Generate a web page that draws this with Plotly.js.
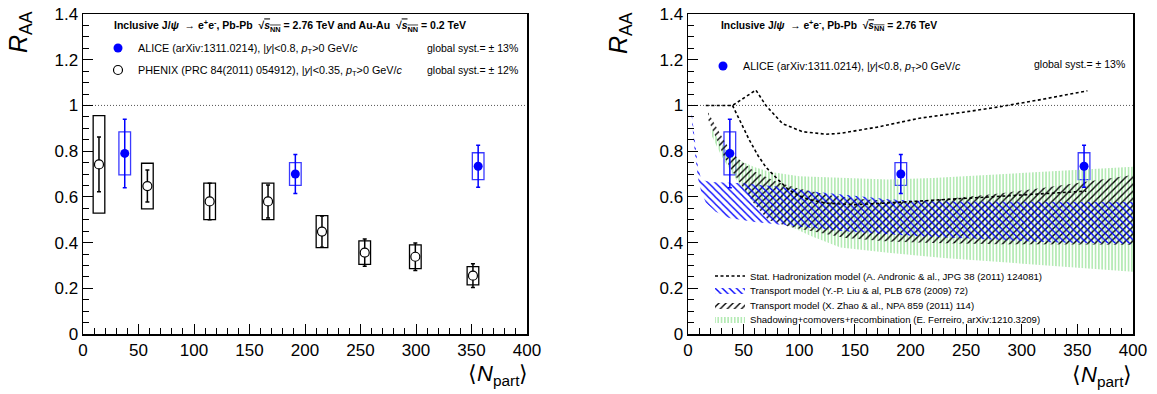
<!DOCTYPE html>
<html><head><meta charset="utf-8">
<script src="https://cdn.plot.ly/plotly-3.0.1.min.js"></script>
<style>html,body{margin:0;padding:0;background:#fff}#chart{width:1157px;height:394px}</style>
</head><body><div id="chart"></div>
<script>
// ---------- data ----------
// ALICE (arXiv:1311.0214), |y|<0.8
const aliceNpart = [37.6, 191.3, 356.0];
const aliceRaa   = [0.79, 0.70, 0.734];
const aliceStat  = [0.15, 0.085, 0.092];
const aliceSyst  = [0.094, 0.05, 0.059];

// PHENIX (PRC 84 (2011) 054912), |y|<0.35
const phenixNpart = [14.4, 58.0, 114.1, 166.7, 215.3, 253.8, 299.4, 351.3];
const phenixRaa   = [0.742, 0.647, 0.58, 0.58, 0.448, 0.356, 0.338, 0.255];
const phenixStat  = [0.12, 0.07, 0.08, 0.072, 0.068, 0.06, 0.06, 0.052];
const phenixSyst  = [0.213, 0.10, 0.08, 0.08, 0.07, 0.051, 0.052, 0.04];

// Stat. Hadronization model (two curves)
const shmUpperN = [16, 40, 61, 70, 85, 103, 124, 137, 170, 208, 250, 280, 320, 359];
const shmUpperR = [1.0, 1.0, 1.067, 1.0, 0.92, 0.885, 0.874, 0.878, 0.905, 0.944, 0.972, 0.994, 1.028, 1.064];
const shmLowerN = [40, 48, 55, 63, 70, 80, 90, 100, 109, 125, 150, 175, 208, 250, 300, 358];
const shmLowerR = [1.0, 0.92, 0.85, 0.78, 0.73, 0.68, 0.633, 0.605, 0.588, 0.572, 0.566, 0.572, 0.582, 0.595, 0.61, 0.625];

// Transport model (Y.-P. Liu et al.)
const liuUpperN = [3, 6, 9, 12, 20, 50, 80, 110, 142, 180, 220, 280, 340, 400];
const liuUpperR = [0.98, 0.85, 0.73, 0.675, 0.665, 0.66, 0.645, 0.625, 0.608, 0.59, 0.58, 0.578, 0.578, 0.578];
const liuLowerN = [3, 6, 9, 12, 16, 25, 37, 60, 76, 100, 140, 200, 260, 330, 400];
const liuLowerR = [0.96, 0.80, 0.68, 0.62, 0.575, 0.535, 0.508, 0.49, 0.484, 0.47, 0.45, 0.43, 0.415, 0.40, 0.395];

// Transport model (X. Zhao et al.)
const zhaoUpperN = [18, 25, 32, 40, 47, 60, 80, 100, 130, 160, 200, 240, 280, 320, 360, 400];
const zhaoUpperR = [0.97, 0.91, 0.85, 0.79, 0.76, 0.71, 0.665, 0.635, 0.605, 0.588, 0.58, 0.595, 0.615, 0.64, 0.668, 0.696];
const zhaoLowerN = [18, 25, 32, 40, 47, 60, 72, 90, 110, 142, 180, 220, 280, 340, 400];
const zhaoLowerR = [0.94, 0.86, 0.78, 0.71, 0.66, 0.565, 0.50, 0.47, 0.45, 0.42, 0.405, 0.398, 0.393, 0.39, 0.39];

// Shadowing+comovers+recombination (E. Ferreiro)
const ferUpperN = [20, 25, 35, 49, 60, 73, 100, 142, 180, 220, 271, 330, 400];
const ferUpperR = [0.91, 0.87, 0.80, 0.754, 0.73, 0.71, 0.69, 0.681, 0.676, 0.682, 0.696, 0.712, 0.732];
const ferLowerN = [20, 30, 40, 50, 60, 75, 90, 110, 137, 180, 230, 280, 340, 400];
const ferLowerR = [0.88, 0.78, 0.70, 0.63, 0.57, 0.51, 0.475, 0.43, 0.378, 0.355, 0.333, 0.316, 0.293, 0.272];

const xTickVals = [0, 50, 100, 150, 200, 250, 300, 350, 400];

// ---------- helpers ----------
const W = 1157, H = 394;
const px = v => v / W;
const py = v => 1 - v / H;
const FONT = 'Liberation Sans, Arial, Helvetica, sans-serif';
const band = (un, ur, ln, lr) => ({x: un.concat(ln.slice().reverse()), y: ur.concat(lr.slice().reverse())});
const diff = (a, b) => a.map((v, i) => v - b[i]);
const twice = a => a.map(v => 2 * v);

const traces = [];
function addData(xa, ya, nx, ny, stat, syst, color, boxColor, filled, name, legend) {
  traces.push({type: 'bar', x: nx, y: twice(syst), base: diff(ny, syst), width: 10.5,
    xaxis: xa, yaxis: ya, showlegend: false, hoverinfo: 'skip',
    marker: {color: 'rgba(0,0,0,0)', line: {color: boxColor, width: 1.3}}});
  traces.push({type: 'scatter', mode: 'markers', x: nx, y: ny, xaxis: xa, yaxis: ya,
    name: name, legend: legend, showlegend: true,
    error_y: {type: 'data', array: stat, visible: true, color: color, thickness: 1.5, width: 2},
    marker: {symbol: 'circle', size: 9, color: filled ? color : '#ffffff', line: {color: color, width: filled ? 0 : 1.2}}});
}

const aliceLabel = 'ALICE (arXiv:1311.0214), |<i>y</i>|&lt;0.8, <i>p</i><sub>T</sub>&gt;0 GeV/<i>c</i>';
// Left panel
addData('x', 'y', phenixNpart, phenixRaa, phenixStat, phenixSyst, '#000000', '#000000', false,
  'PHENIX (PRC 84(2011) 054912), |<i>y</i>|&lt;0.35, <i>p</i><sub>T</sub>&gt;0 GeV/<i>c</i>', 'legend2');
addData('x', 'y', aliceNpart, aliceRaa, aliceStat, aliceSyst, '#0000ff', '#3a3aff', true, aliceLabel, 'legend');

// Right panel models
const fb = band(ferUpperN, ferUpperR, ferLowerN, ferLowerR);
traces.push({type: 'scatter', mode: 'lines', x: fb.x, y: fb.y, xaxis: 'x2', yaxis: 'y2', fill: 'toself',
  fillcolor: 'rgba(0,0,0,0)', line: {width: 0, color: 'rgba(0,0,0,0)'}, hoverinfo: 'skip',
  fillpattern: {shape: '|', fgcolor: '#8ee08e', size: 3.3, solidity: 0.33},
  name: 'Shadowing+comovers+recombination (E. Ferreiro, arXiv:1210.3209)', legend: 'legend7'});
const zb = band(zhaoUpperN, zhaoUpperR, zhaoLowerN, zhaoLowerR);
traces.push({type: 'scatter', mode: 'lines', x: zb.x, y: zb.y, xaxis: 'x2', yaxis: 'y2', fill: 'toself',
  fillcolor: 'rgba(0,0,0,0)', line: {width: 0, color: 'rgba(0,0,0,0)'}, hoverinfo: 'skip',
  fillpattern: {shape: '/', fgcolor: '#000000', size: 5, solidity: 0.28},
  name: 'Transport model (X. Zhao &amp; al., NPA 859 (2011) 114)', legend: 'legend6'});
const lb = band(liuUpperN, liuUpperR, liuLowerN, liuLowerR);
traces.push({type: 'scatter', mode: 'lines', x: lb.x, y: lb.y, xaxis: 'x2', yaxis: 'y2', fill: 'toself',
  fillcolor: 'rgba(0,0,0,0)', line: {width: 0, color: 'rgba(0,0,0,0)'}, hoverinfo: 'skip',
  fillpattern: {shape: '\\', fgcolor: '#0000ff', size: 5, solidity: 0.28},
  name: 'Transport model (Y.-P. Liu &amp; al, PLB 678 (2009) 72)', legend: 'legend5'});
traces.push({type: 'scatter', mode: 'lines', x: shmUpperN.concat([null], shmLowerN), y: shmUpperR.concat([null], shmLowerR),
  xaxis: 'x2', yaxis: 'y2', connectgaps: false, hoverinfo: 'skip',
  line: {color: '#000000', width: 1.6, dash: '3px,2.5px'},
  name: 'Stat. Hadronization model (A. Andronic &amp; al., JPG 38 (2011) 124081)', legend: 'legend4'});

addData('x2', 'y2', aliceNpart, aliceRaa, aliceStat, aliceSyst, '#0000ff', '#3a3aff', true, aliceLabel, 'legend3');

// ---------- layout ----------
const xDomL = [px(83), px(527)], xDomR = [px(688), px(1133)];
const yDom = [py(334), py(14)];
function xax(dom, anchor) {
  return {domain: dom, anchor: anchor, range: [0, 400], tickvals: xTickVals, ticks: 'inside', ticklen: 10,
    tickwidth: 1, tickcolor: '#000', showline: true, linecolor: '#000', linewidth: 1.5, mirror: true,
    showgrid: false, zeroline: false, tickfont: {family: FONT, size: 17, color: '#000'},
    minor: {dtick: 10, ticks: 'inside', ticklen: 6, tickcolor: '#000', tickwidth: 1, showgrid: false}};
}
function yax(anchor) {
  return {domain: yDom, anchor: anchor, range: [0, 1.4], dtick: 0.2, tick0: 0, ticks: 'inside', ticklen: 10,
    tickwidth: 1, tickcolor: '#000', showline: true, linecolor: '#000', linewidth: 1.5, mirror: true,
    showgrid: false, zeroline: false, tickfont: {family: FONT, size: 17, color: '#000'},
    minor: {dtick: 0.05, ticks: 'inside', ticklen: 6, tickcolor: '#000', tickwidth: 1, showgrid: false}};
}

const sqrtS = '√<span style="text-decoration:overline"><i>s</i><sub>NN</sub></span>';
const ann = [];
function txt(x, y, text, opts) {
  ann.push(Object.assign({xref: 'paper', yref: 'paper', x: px(x), y: py(y), text: text, showarrow: false,
    xanchor: 'left', yanchor: 'middle', font: {family: FONT, size: 10.5, color: '#000'}}, opts || {}));
}
// left
txt(112, 26, '<b>Inclusive J/<i>ψ</i>  → e<sup>+</sup>e<sup>-</sup>, Pb-Pb  ' + sqrtS + ' = 2.76 TeV and Au-Au  ' + sqrtS + ' = 0.2 TeV</b>', {font: {family: FONT, size: 10.5, color: '#000'}});
txt(520, 48, 'global syst.= ± 13%', {xanchor: 'right'});
txt(520, 70, 'global syst.= ± 12%', {xanchor: 'right'});
txt(20, 32, '<i>R</i><sub>AA</sub>', {xanchor: 'center', textangle: -90, font: {family: FONT, size: 25, color: '#000'}});
txt(498, 375, '⟨<i>N</i><sub>part</sub>⟩', {xanchor: 'center', font: {family: FONT, size: 22, color: '#000'}});
// right
txt(719, 26, '<b>Inclusive J/<i>ψ</i>  → e<sup>+</sup>e<sup>-</sup>, Pb-Pb  ' + sqrtS + ' = 2.76 TeV</b>', {font: {family: FONT, size: 10.3, color: '#000'}});
txt(1127, 64, 'global syst.= ± 13%', {xanchor: 'right'});
txt(620, 33, '<i>R</i><sub>AA</sub>', {xanchor: 'center', textangle: -90, font: {family: FONT, size: 25, color: '#000'}});
txt(1102, 376, '⟨<i>N</i><sub>part</sub>⟩', {xanchor: 'center', font: {family: FONT, size: 22, color: '#000'}});

const refLine = (xr, yr) => ({type: 'line', xref: xr + ' domain', yref: yr, x0: 0, x1: 1, y0: 1, y1: 1,
  line: {color: '#555', width: 1, dash: '1px,2px'}, layer: 'below'});

function leg(x, y, size) {
  return {x: px(x), y: py(y), xanchor: 'left', yanchor: 'middle', bgcolor: 'rgba(0,0,0,0)',
    font: {family: FONT, size: size, color: '#000'}};
}

const layout = {
  width: W, height: H, margin: {l: 0, r: 0, t: 0, b: 0}, paper_bgcolor: '#fff', plot_bgcolor: '#fff',
  hovermode: false, barmode: 'overlay', showlegend: true,
  font: {family: FONT, color: '#000'},
  xaxis: xax(xDomL, 'y'), yaxis: yax('x'),
  xaxis2: xax(xDomR, 'y2'), yaxis2: yax('x2'),
  shapes: [refLine('x', 'y'), refLine('x2', 'y2')],
  annotations: ann,
  legend: leg(98, 48, 10.8),
  legend2: leg(98, 70, 10.8),
  legend3: leg(703, 66, 10.7),
  legend4: leg(710, 276, 9.6),
  legend5: leg(710, 290, 9.6),
  legend6: leg(710, 305, 9.6),
  legend7: leg(710, 319, 9.6)
};

Plotly.newPlot('chart', traces, layout, {staticPlot: true, displayModeBar: false});
</script>
</body></html>
